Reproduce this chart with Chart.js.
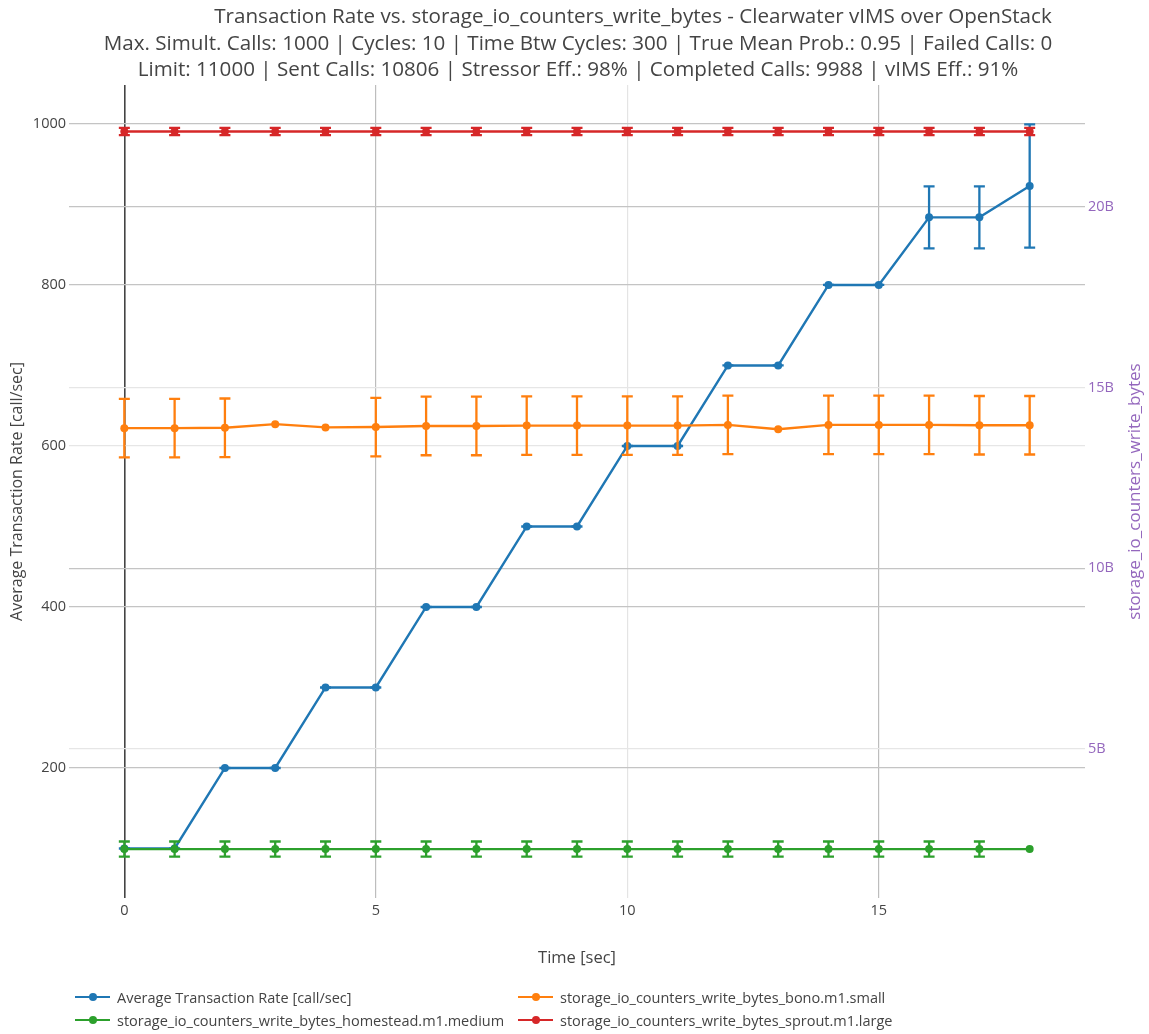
<!DOCTYPE html>
<html>
<head>
<meta charset="utf-8">
<script src="https://cdn.jsdelivr.net/npm/chart.js@4.4.0/dist/chart.umd.min.js"></script>
<style>
  html, body { margin: 0; padding: 0; background: #fff; }
  #wrap { position: relative; width: 1149px; height: 1034px; }
  #legend { position: absolute; left: 0; top: 0; font-family: "Open Sans", sans-serif; font-size: 14.5px; color: #444; }
  .item { position: absolute; height: 20px; display: flex; align-items: center; white-space: nowrap; }
  .swatch { position: relative; width: 35px; height: 20px; margin-right: 7px; }
  .swatch .ln { position: absolute; left: 0; right: 0; top: 9px; height: 2px; }
  .swatch .dot { position: absolute; left: 14px; top: 6px; width: 8px; height: 8px; border-radius: 50%; }
</style>
</head>
<body>
<div id="wrap">
  <canvas id="chart" width="1149" height="1034"></canvas>
  <div id="legend"></div>
</div>
<script>
// x axis: time in seconds
const timeSec = [0, 1, 2, 3, 4, 5, 6, 7, 8, 9, 10, 11, 12, 13, 14, 15, 16, 17, 18];
const xTicks = [0, 5, 10, 15];
const leftTicks = [200, 400, 600, 800, 1000];
const rightTicks = [5, 10, 15, 20]; // billions of bytes

// left axis: average transaction rate [call/sec]
const transactionRate = [100, 100, 200, 200, 300, 300, 400, 400, 500, 500, 600, 600, 700, 700, 800, 800, 884, 884, 923];
const transactionErr = [0, 0, 0, 0, 0, 0, 0, 0, 0, 0, 0, 0, 0, 0, 0, 0, 38.5, 38.5, 76.5];

// right axis: storage_io_counters_write_bytes, in billions
const bonoWrite = [13.88, 13.88, 13.89, 13.99, 13.90, 13.91, 13.94, 13.94, 13.95, 13.95, 13.95, 13.95, 13.97, 13.85, 13.97, 13.97, 13.97, 13.96, 13.96];
const bonoErr = [0.81, 0.81, 0.81, null, null, 0.81, 0.81, 0.81, 0.81, 0.81, 0.81, 0.81, 0.81, null, 0.81, 0.81, 0.81, 0.81, 0.81];
const homesteadWrite = [2.23, 2.23, 2.23, 2.23, 2.23, 2.23, 2.23, 2.23, 2.23, 2.23, 2.23, 2.23, 2.23, 2.23, 2.23, 2.23, 2.23, 2.23, 2.23];
const homesteadErr = [0.21, 0.21, 0.21, 0.21, 0.21, 0.21, 0.21, 0.21, 0.21, 0.21, 0.21, 0.21, 0.21, 0.21, 0.21, 0.21, 0.21, 0.21, null];
const sproutWrite = [22.09, 22.09, 22.09, 22.09, 22.09, 22.09, 22.09, 22.09, 22.09, 22.09, 22.09, 22.09, 22.09, 22.09, 22.09, 22.09, 22.09, 22.09, 22.09];
const sproutErr = [0.1, 0.1, 0.1, 0.1, 0.1, 0.1, 0.1, 0.1, 0.1, 0.1, 0.1, 0.1, 0.1, 0.1, 0.1, 0.1, 0.1, 0.1, 0.1];

const titleLines = [
  'Transaction Rate vs. storage_io_counters_write_bytes - Clearwater vIMS over OpenStack',
  'Max. Simult. Calls: 1000 | Cycles: 10 | Time Btw Cycles: 300 | True Mean Prob.: 0.95 | Failed Calls: 0',
  'Limit: 11000 | Sent Calls: 10806 | Stressor Eff.: 98% | Completed Calls: 9988 | vIMS Eff.: 91%'
];
const rightTitle = 'storage_io_counters_write_bytes';

const FONT = '"Open Sans", sans-serif';
const purple = '#9467bd';

const toPoints = (ys) => ys.map((y, i) => ({ x: timeSec[i], y: y }));

const series = [
  { label: 'Average Transaction Rate [call/sec]', values: transactionRate, errors: transactionErr, color: '#1f77b4', axis: 'y', order: 4 },
  { label: 'storage_io_counters_write_bytes_bono.m1.small', values: bonoWrite, errors: bonoErr, color: '#ff7f0e', axis: 'y2', order: 3 },
  { label: 'storage_io_counters_write_bytes_homestead.m1.medium', values: homesteadWrite, errors: homesteadErr, color: '#2ca02c', axis: 'y2', order: 2 },
  { label: 'storage_io_counters_write_bytes_sprout.m1.large', values: sproutWrite, errors: sproutErr, color: '#d62728', axis: 'y2', order: 1 }
];

// vertical error bars with caps, drawn under each line
const errorBars = {
  id: 'errorBars',
  beforeDatasetDraw(chart, args) {
    const ds = chart.data.datasets[args.index];
    if (!ds.errors) return;
    const xs = chart.scales.x;
    const ys = chart.scales[ds.yAxisID];
    const ctx = chart.ctx;
    ctx.save();
    ctx.strokeStyle = ds.borderColor;
    ctx.lineWidth = 2.3;
    ds.data.forEach((p, i) => {
      const e = ds.errors[i];
      if (e === null || e === undefined) return;
      const x = xs.getPixelForValue(p.x);
      const top = ys.getPixelForValue(p.y + e);
      const bot = ys.getPixelForValue(p.y - e);
      ctx.beginPath();
      ctx.moveTo(x, top); ctx.lineTo(x, bot);
      ctx.moveTo(x - 5.5, top); ctx.lineTo(x + 5.5, top);
      ctx.moveTo(x - 5.5, bot); ctx.lineTo(x + 5.5, bot);
      ctx.stroke();
    });
    ctx.restore();
  }
};

// three-line title and the right axis title (reads bottom to top)
const titleBlock = {
  id: 'titleBlock',
  afterDraw(chart) {
    const ctx = chart.ctx;
    const centers = [633, 578, 578];
    const ys = [17, 44, 70];
    ctx.save();
    ctx.fillStyle = '#444';
    ctx.font = '20.6px ' + FONT;
    ctx.textAlign = 'center';
    ctx.textBaseline = 'middle';
    titleLines.forEach((t, i) => ctx.fillText(t, centers[i], ys[i]));
    const a = chart.chartArea;
    ctx.translate(1135, (a.top + a.bottom) / 2);
    ctx.rotate(-Math.PI / 2);
    ctx.fillStyle = purple;
    ctx.font = '17px ' + FONT;
    ctx.fillText(rightTitle, 0, 0);
    ctx.restore();
  }
};

const fixedTicks = (vals) => (scale) => { scale.ticks = vals.map(v => ({ value: v })); };

new Chart(document.getElementById('chart'), {
  type: 'line',
  data: {
    datasets: series.map(s => ({
      label: s.label,
      data: toPoints(s.values),
      errors: s.errors,
      yAxisID: s.axis,
      order: s.order,
      borderColor: s.color,
      backgroundColor: s.color,
      borderWidth: 2.4,
      pointRadius: 4,
      pointBorderWidth: 0,
      tension: 0
    }))
  },
  options: {
    responsive: false,
    animation: false,
    layout: { padding: { top: 85, bottom: 66, left: 0, right: 0 } },
    plugins: {
      legend: { display: false },
      title: { display: false },
      tooltip: { enabled: false }
    },
    scales: {
      x: {
        type: 'linear',
        min: -1.1,
        max: 19.1,
        afterBuildTicks: fixedTicks(xTicks),
        afterFit: (s) => { s.height = 70; },
        border: { display: false },
        grid: {
          drawTicks: false,
          color: (c) => c.tick.value === 0 ? '#444' : (c.tick.value === 10 ? '#e4e4e4' : '#bdbdbd'),
          lineWidth: (c) => c.tick.value === 0 ? 1.6 : 1.2
        },
        ticks: { padding: 4, color: '#444', font: { family: FONT, size: 14.5 }, callback: (v) => String(v) },
        title: { display: true, text: 'Time [sec]', color: '#444', font: { family: FONT, size: 16.5 }, padding: { top: 5, bottom: 0 } }
      },
      y: {
        type: 'linear',
        position: 'left',
        min: 38.5,
        max: 1048.4,
        afterBuildTicks: fixedTicks(leftTicks),
        afterFit: (s) => { s.width = 69; },
        border: { display: false },
        grid: {
          drawTicks: false,
          color: (c) => c.tick.value === 600 ? '#e6e6e6' : '#c4c4c4',
          lineWidth: 1.3
        },
        ticks: { padding: 3, color: '#444', font: { family: FONT, size: 14.5 }, callback: (v) => String(v) },
        title: { display: true, text: 'Average Transaction Rate [call/sec]', color: '#444', font: { family: FONT, size: 16 }, padding: { top: 8, bottom: 0 } }
      },
      y2: {
        type: 'linear',
        position: 'right',
        min: 0.876,
        max: 23.377,
        afterBuildTicks: fixedTicks(rightTicks),
        afterFit: (s) => { s.width = 64; },
        border: { display: false },
        grid: {
          drawTicks: false,
          color: (c) => (c.tick.value === 15 || c.tick.value === 5) ? '#e6e6e6' : '#c4c4c4',
          lineWidth: 1.3
        },
        ticks: { padding: 3, color: purple, font: { family: FONT, size: 14.5 }, callback: (v) => v + 'B' },
        title: { display: false }
      }
    }
  },
  plugins: [errorBars, titleBlock]
});

// legend in two columns under the plot
const legendPos = [[75, 987], [518, 987], [75, 1010], [518, 1010]];
const legend = document.getElementById('legend');
series.forEach((s, i) => {
  const item = document.createElement('div');
  item.className = 'item';
  item.style.left = legendPos[i][0] + 'px';
  item.style.top = legendPos[i][1] + 'px';
  item.innerHTML = '<span class="swatch"><span class="ln" style="background:' + s.color + '"></span>' +
    '<span class="dot" style="background:' + s.color + '"></span></span><span>' + s.label + '</span>';
  legend.appendChild(item);
});
</script>
</body>
</html>
